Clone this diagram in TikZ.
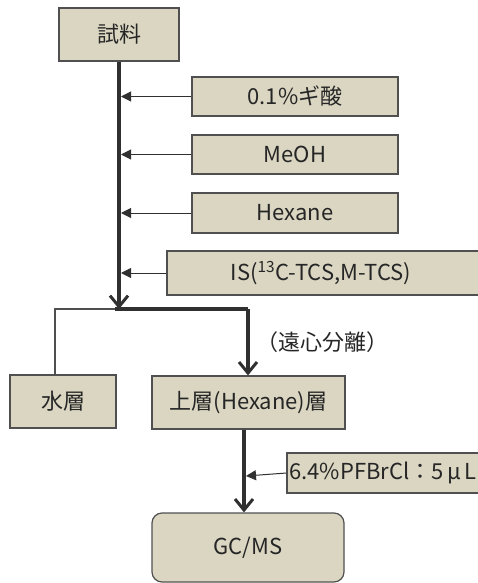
\documentclass[tikz,border=0pt]{standalone}
\usepackage{fontspec}
\setmainfont{Noto Sans CJK JP}
\usetikzlibrary{arrows.meta}

\definecolor{boxfill}{HTML}{DAD6C2}
\definecolor{boxline}{HTML}{505050}
\definecolor{flowline}{HTML}{303030}

\tikzset{box/.style={draw=boxline, line width=1.2pt, fill=boxfill, text=black!85, inner sep=0pt, font=\fontsize{22}{24}\selectfont},
  rbox/.style={box, rounded corners=10pt},
  mainline/.style={draw=flowline, line width=4pt},
  feed/.style={draw=flowline, line width=1pt, -{Triangle[length=10pt,width=10pt]}},
  down/.style={mainline, -{Straight Barb[length=11pt,width=18pt,line width=3pt]}}}

\begin{document}
\begin{tikzpicture}[x=1pt, y=-1pt]
				\useasboundingbox (0,0) rectangle (477,583);
				% Boxes
				\node[box, minimum width=120pt, minimum height=53pt] (sample) at (119,34.5) {試料};
				\node[box, minimum width=206pt, minimum height=39pt] (formic) at (295,96.5) {0.1\%ギ酸};
				\node[box, minimum width=206pt, minimum height=39pt] (meoh) at (295,154.5) {MeOH};
				\node[box, minimum width=206pt, minimum height=40pt] (hexane) at (295,213) {Hexane};
				\node[box, minimum width=314pt, minimum height=44pt] (is) at (324,273) {IS(\textsuperscript{13}C-TCS,M-TCS)\hspace*{6pt}};
				\node[box, minimum width=106pt, minimum height=53pt] (water) at (63,401.5) {水層};
				\node[box, minimum width=193pt, minimum height=53pt] (upper) at (248.5,402.5) {上層(Hexane)層};
				\node[box, minimum width=194pt, minimum height=40pt] (pfb) at (384,473) {6.4\%PFBrCl：5\,μ\,L\hspace*{2pt}};
				\node[rbox, minimum width=192pt, minimum height=69pt] (gcms) at (248,547.5) {GC/MS};
				% Junction points
				\coordinate (split) at (119,309);
				\coordinate (left) at (55,309);
				\coordinate (right) at (248,309);
				\coordinate (lower) at (244,476);
				% Flow
				\draw[down] (sample.south) -- (split);
				\draw[flowline!85, line width=1.8pt] (water.north -| left) -- (left) -- (split);
				\draw[mainline] (115,309) -- (right);
				\draw[down] (right) -- (upper.north -| right)
					node[midway, right=3pt, font=\fontsize{22}{24}\selectfont, text=black!85] {（遠心分離）};
				\draw[down] (upper.south -| lower) -- (gcms.north -| lower);
				% Additions
				\foreach \b in {formic, meoh, hexane, is}
					\draw[feed] (\b.west) -- (\b.west -| 121,0);
				\draw[feed] (pfb.west) -- ([xshift=2pt]lower);
			\end{tikzpicture}
\end{document}
